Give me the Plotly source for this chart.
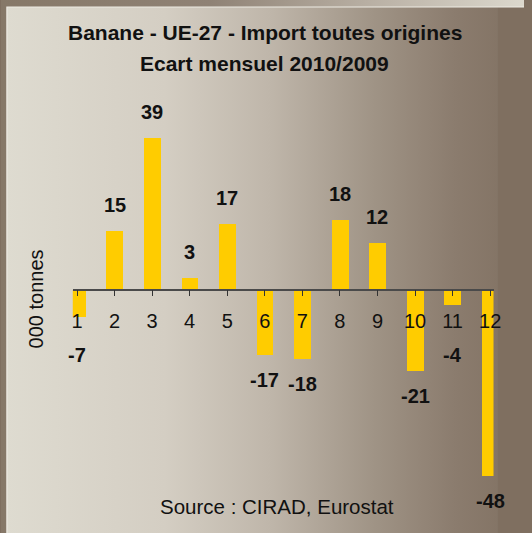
import plotly.graph_objects as go

months = ["1", "2", "3", "4", "5", "6", "7", "8", "9", "10", "11", "12"]
month_pos = [1, 2, 3, 4, 5, 6, 7, 8, 9, 10, 11, 12]
ecart = [-7, 15, 39, 3, 17, -17, -18, 18, 12, -21, -4, -48]

title_line1 = "Banane - UE-27 - Import toutes origines"
title_line2 = "Ecart mensuel 2010/2009"
y_title = "000 tonnes"
source_text = "Source : CIRAD, Eurostat"

W, H = 532, 533
FONT = "Liberation Sans, Arial, sans-serif"

def px_x(p):
    return p / W

def px_y(p):
    return 1 - p / H

inner_scale = [[0.0, "#dedbd0"], [0.3, "#d4cec3"], [0.5, "#bfb6aa"],
               [0.7, "#9f9385"], [0.85, "#8b7c6e"], [1.0, "#7f6f60"]]
outer_scale = [[0.0, "#867868"], [0.4, "#8f8275"], [0.7, "#b8afa3"], [1.0, "#dcd8cd"]]

fig = go.Figure()

# background (paper) gradients on the first, hidden, full-page axes
fig.add_trace(go.Scatter(
    x=[0, 1, 1, 0, 0], y=[0, 0, 1, 1, 0], mode="lines", fill="toself",
    line=dict(width=0), fillgradient=dict(type="horizontal", colorscale=outer_scale),
    hoverinfo="skip", showlegend=False, xaxis="x", yaxis="y"))
fig.add_trace(go.Scatter(
    x=[px_x(6), 1.0, 1.0, px_x(6), px_x(6)],
    y=[-0.05, -0.05, px_y(7), px_y(7), -0.05], mode="lines", fill="toself",
    line=dict(width=0),
    fillgradient=dict(type="horizontal", colorscale=inner_scale, start=px_x(6), stop=1.0),
    hoverinfo="skip", showlegend=False, xaxis="x", yaxis="y"))
fig.add_trace(go.Scatter(
    x=[0.95, 1.05, 1.05, 0.95, 0.95],
    y=[-0.05, -0.05, px_y(7), px_y(7), -0.05], mode="lines", fill="toself",
    line=dict(width=0), fillcolor="#7f6f60",
    hoverinfo="skip", showlegend=False, xaxis="x", yaxis="y"))
# thin light edge on the left and top of the inner panel
fig.add_trace(go.Scatter(
    x=[px_x(6), px_x(6), 1.0], y=[0.0, px_y(7), px_y(7)], mode="lines",
    line=dict(width=1.2, color="#eeebe3"),
    hoverinfo="skip", showlegend=False, xaxis="x", yaxis="y"))

# bars
fig.add_trace(go.Bar(
    x=month_pos, y=ecart, width=0.445, marker=dict(color="#FFCC00", line=dict(width=0)),
    showlegend=False, xaxis="x2", yaxis="y2"))

zero_px = 289.5
x_dom = [px_x(73), px_x(501)]
y_top_px, y_bot_px = 100, 490
ppu = 3.88
y_dom = [px_y(y_bot_px), px_y(y_top_px)]
y_rng = [-(y_bot_px - zero_px) / ppu, (zero_px - y_top_px) / ppu]

annotations = []
for xv, v in zip(month_pos, ecart):
    if v >= 0:
        annotations.append(dict(x=xv, y=v, xref="x2", yref="y2", text=f"<b>{v}</b>",
                                showarrow=False, yshift=26, yanchor="middle",
                                font=dict(family=FONT, size=20, color="#111111")))
    else:
        annotations.append(dict(x=xv, y=min(v, -10.5), xref="x2", yref="y2", text=f"<b>{v}</b>",
                                showarrow=False, yshift=-25, yanchor="middle",
                                font=dict(family=FONT, size=20, color="#111111")))

annotations += [
    dict(x=px_x(268.5), y=px_y(33), xref="paper", yref="paper", text=f"<b>{title_line1}</b>",
         showarrow=False, xanchor="center", yanchor="middle",
         font=dict(family=FONT, size=21, color="#111111")),
    dict(x=px_x(268.5), y=px_y(63), xref="paper", yref="paper", text=f"<b>{title_line2}</b>",
         showarrow=False, xanchor="center", yanchor="middle",
         font=dict(family=FONT, size=21, color="#111111")),
    dict(x=px_x(281), y=px_y(506), xref="paper", yref="paper", text=source_text,
         showarrow=False, xanchor="center", yanchor="middle",
         font=dict(family=FONT, size=20.5, color="#111111")),
    dict(x=px_x(35.5), y=px_y(298.5), xref="paper", yref="paper", text=y_title,
         showarrow=False, xanchor="center", yanchor="middle", textangle=-90,
         font=dict(family=FONT, size=20, color="#111111")),
]

fig.update_layout(
    width=W, height=H,
    margin=dict(l=0, r=0, t=0, b=0, pad=0),
    paper_bgcolor="#7f6f60", plot_bgcolor="rgba(0,0,0,0)",
    xaxis=dict(domain=[0, 1], range=[0, 1], visible=False, fixedrange=True),
    yaxis=dict(domain=[0, 1], range=[0, 1], visible=False, fixedrange=True),
    xaxis2=dict(domain=x_dom, range=[0.887, 12.09], anchor="free", position=px_y(zero_px),
                tickmode="array", tickvals=month_pos, ticktext=months,
                showline=True, linecolor="#4a4a4a", linewidth=1.5,
                ticks="outside", ticklen=6, tickcolor="#333333", tickwidth=1,
                showgrid=False, zeroline=False, ticklabelstandoff=8,
                tickfont=dict(family=FONT, size=20, color="#111111")),
    yaxis2=dict(domain=y_dom, range=y_rng, anchor="x2", visible=False,
                showgrid=False, zeroline=False),
    annotations=annotations,
    bargap=0,
)

fig.write_html("out.html", config={"displayModeBar": False},
               post_script=("document.body.style.margin='0';"
                            "document.body.style.overflow='hidden';"
                            "document.documentElement.style.overflow='hidden';"
                            "document.body.style.background='#7f6f60';"))
